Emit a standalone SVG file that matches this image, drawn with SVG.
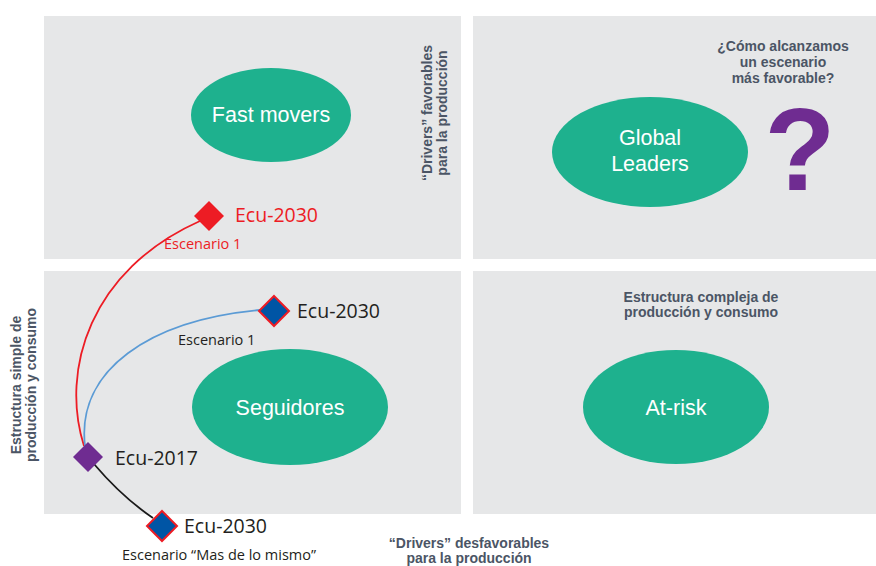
<svg xmlns="http://www.w3.org/2000/svg" width="876" height="566" viewBox="0 0 876 566">
<style>
.panel{fill:#E6E7E8}
.ell{fill:#1EB18E}
.et{fill:#fff;font-family:"Liberation Sans",Arial,sans-serif;font-size:21.5px;text-anchor:middle}
.lab{fill:#4B5565;font-family:"Liberation Sans",Arial,sans-serif;font-size:14px;font-weight:bold;text-anchor:middle}
.ecu{font-family:"Open Sans","Liberation Sans",sans-serif;font-size:19.5px}
.esc{font-family:"Open Sans","Liberation Sans",sans-serif;font-size:14.5px}
</style>
<rect width="876" height="566" fill="#fff"/>
<g id="panels">
<rect class="panel" x="44" y="16" width="417" height="243"/>
<rect class="panel" x="473" y="16" width="403" height="243"/>
<rect class="panel" x="44" y="271" width="417" height="243"/>
<rect class="panel" x="473" y="271" width="403" height="243"/>
</g>
<g id="fast-movers"><ellipse class="ell" cx="271" cy="115" rx="80" ry="47"/><text class="et" x="271" y="122">Fast movers</text></g>
<g id="global-leaders"><ellipse class="ell" cx="650" cy="152" rx="98" ry="55"/><text class="et" x="650" y="145">Global</text><text class="et" x="650" y="171">Leaders</text></g>
<g id="seguidores"><ellipse class="ell" cx="290" cy="407" rx="98" ry="58"/><text class="et" x="290" y="415">Seguidores</text></g>
<g id="at-risk"><ellipse class="ell" cx="676" cy="407" rx="93" ry="57"/><text class="et" x="676" y="415">At-risk</text></g>
<g id="question"><text x="800" y="190" fill="#6F2C91" font-family="'Liberation Sans',Arial,sans-serif" font-weight="bold" font-size="116" text-anchor="middle">?</text></g>
<g id="labels">
<text class="lab" x="783" y="51">¿Cómo alcanzamos</text>
<text class="lab" x="783" y="67">un escenario</text>
<text class="lab" x="783" y="83">más favorable?</text>
<g transform="translate(435,113) rotate(-90)"><text class="lab" x="0" y="-3">“Drivers” favorables</text><text class="lab" x="0" y="12">para la producción</text></g>
<g transform="translate(24,385) rotate(-90)"><text class="lab" x="0" y="-3">Estructura simple de</text><text class="lab" x="0" y="12">producción y consumo</text></g>
<text class="lab" x="701" y="302">Estructura compleja de</text>
<text class="lab" x="701" y="317">producción y consumo</text>
<text class="lab" x="469" y="548">“Drivers” desfavorables</text>
<text class="lab" x="469" y="563">para la producción</text>
</g>
<g id="connectors" fill="none" stroke-width="1.8">
<path d="M84 446 C60 370 90 270 200 221" stroke="#ED1C24"/>
<path d="M85 446 C76 370 150 320 260 310" stroke="#5B9BD5"/>
<path d="M94 464 Q122 497 153 518" stroke="#1A1A1A"/>
</g>
<g id="ecu2030-red"><path d="M209 201 L224 216 L209 231 L194 216 Z" fill="#ED1C24"/><text class="ecu" x="235" y="222" fill="#ED1C24">Ecu-2030</text><text class="esc" x="164" y="249" fill="#ED1C24">Escenario 1</text></g>
<g id="ecu2030-blue"><path d="M274 296 L289 311 L274 326 L259 311 Z" fill="#0055A5" stroke="#ED1C24" stroke-width="2"/><text class="ecu" x="297" y="318" fill="#231F20">Ecu-2030</text><text class="esc" x="178" y="345" fill="#231F20">Escenario 1</text></g>
<g id="ecu2017"><path d="M88 442 L103 457 L88 472 L73 457 Z" fill="#6F2C91"/><text class="ecu" x="115" y="465" fill="#231F20">Ecu-2017</text></g>
<g id="ecu2030-mismo"><path d="M162 511 L177 526 L162 541 L147 526 Z" fill="#0055A5" stroke="#ED1C24" stroke-width="2"/><text class="ecu" x="184" y="533" fill="#231F20">Ecu-2030</text><text class="esc" x="122" y="560" fill="#231F20">Escenario “Mas de lo mismo”</text></g>
</svg>
